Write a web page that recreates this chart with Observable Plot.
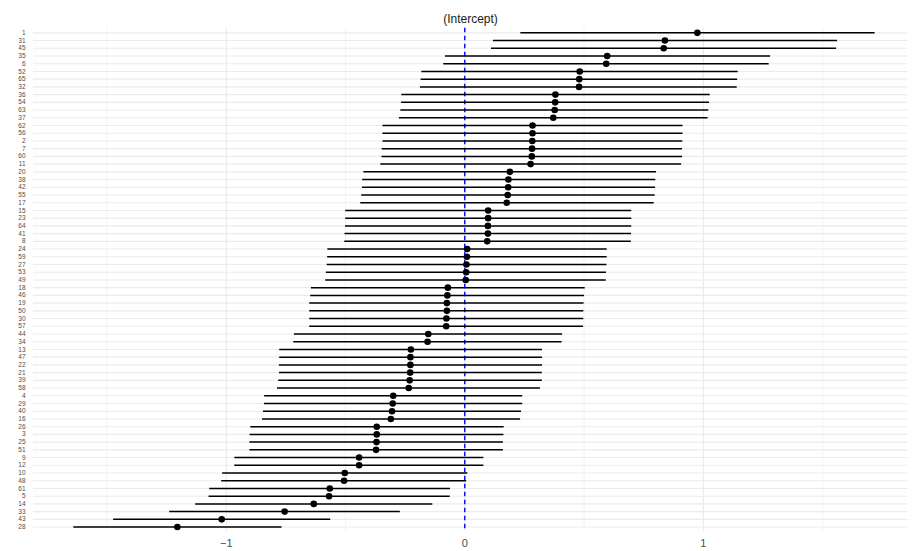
<!DOCTYPE html>
<html>
<head>
<meta charset="utf-8">
<script src="https://cdn.jsdelivr.net/npm/d3@7"></script>
<script src="https://cdn.jsdelivr.net/npm/@observablehq/plot@0.6"></script>
<style>
  html, body { margin: 0; padding: 0; background: #ffffff; }
  #chart svg { display: block; }
</style>
</head>
<body>
<div id="chart"></div>
<script>
// Random-intercept estimates per group with their intervals, sorted by estimate.
const title = "(Intercept)";
const groups = [
  "1","31","45","35","6","52","65","32","36","54","63","37","62","56","2","7",
  "60","11","20","38","42","55","17","15","23","64","41","8","24","59","27","53",
  "49","18","46","19","50","30","57","44","34","13","47","22","21","39","58","4",
  "29","40","16","26","3","25","51","9","12","10","48","61","5","14","33","43","28"
];
const estimate = [
  0.975, 0.839, 0.834, 0.597, 0.593, 0.482, 0.480, 0.479, 0.380, 0.379, 0.377, 0.371,
  0.284, 0.284, 0.283, 0.282, 0.281, 0.276, 0.189, 0.183, 0.182, 0.180, 0.176,
  0.098, 0.098, 0.097, 0.097, 0.094, 0.010, 0.009, 0.007, 0.006, 0.004,
  -0.071, -0.073, -0.075, -0.075, -0.077, -0.078, -0.153, -0.156,
  -0.226, -0.228, -0.228, -0.229, -0.231, -0.235, -0.300, -0.302, -0.305, -0.310,
  -0.369, -0.369, -0.370, -0.372, -0.443, -0.443, -0.503, -0.506, -0.566, -0.569,
  -0.633, -0.755, -1.019, -1.205
];
const lower = [
  0.235, 0.120, 0.112, -0.081, -0.088, -0.180, -0.183, -0.186, -0.264, -0.265, -0.268, -0.274,
  -0.343, -0.343, -0.343, -0.346, -0.347, -0.352, -0.423, -0.428, -0.429, -0.432, -0.436,
  -0.499, -0.499, -0.500, -0.502, -0.503, -0.574, -0.575, -0.577, -0.580, -0.583,
  -0.643, -0.646, -0.650, -0.650, -0.650, -0.650, -0.714, -0.717,
  -0.776, -0.776, -0.777, -0.777, -0.780, -0.785, -0.839, -0.840, -0.844, -0.848,
  -0.897, -0.900, -0.901, -0.901, -0.964, -0.964, -1.015, -1.019, -1.069, -1.072,
  -1.128, -1.237, -1.472, -1.639
];
const upper = [
  1.720, 1.563, 1.559, 1.282, 1.276, 1.146, 1.144, 1.142, 1.029, 1.026, 1.023, 1.020,
  0.915, 0.915, 0.914, 0.913, 0.913, 0.909, 0.804, 0.801, 0.800, 0.798, 0.794,
  0.700, 0.700, 0.700, 0.699, 0.698, 0.597, 0.597, 0.596, 0.594, 0.593,
  0.505, 0.502, 0.500, 0.499, 0.499, 0.498, 0.410, 0.408,
  0.326, 0.326, 0.326, 0.325, 0.325, 0.317, 0.243, 0.243, 0.238, 0.234,
  0.165, 0.164, 0.162, 0.162, 0.080, 0.080, 0.013, 0.008, -0.060, -0.061,
  -0.134, -0.270, -0.562, -0.766
];
const xMajor = [-1, 0, 1];
const xMinor = [-1.5, -0.5, 0.5, 1.5];

const rows = groups.map((g, i) => ({group: g, est: estimate[i], lo: lower[i], hi: upper[i]}));

const gridColor = "#ebebeb";
const font = "'Liberation Sans', Arial, Helvetica, sans-serif";
const fmtTick = d => (d < 0 ? "\u2212" + Math.abs(d) : String(d));

const chart = Plot.plot({
  width: 912,
  height: 551,
  marginLeft: 33,
  marginRight: 5,
  marginTop: 27.7,
  marginBottom: 19.8,
  style: {fontFamily: font, background: "#ffffff"},
  x: {domain: [-1.808, 1.856], label: null},
  y: {type: "point", domain: groups, padding: 0.6, label: null},
  marks: [
    Plot.gridX(xMinor, {stroke: gridColor, strokeOpacity: 1, strokeWidth: 0.6}),
    Plot.gridX(xMajor, {stroke: gridColor, strokeOpacity: 1, strokeWidth: 1.1}),
    Plot.gridY(groups, {stroke: gridColor, strokeOpacity: 1, strokeWidth: 1.1}),
    Plot.axisX(xMajor, {tickSize: 0, tickPadding: 7, fontSize: 11, fill: "#4d4d4d", label: null, tickFormat: fmtTick}),
    Plot.axisY(groups, {tickSize: 0, tickPadding: 8, fontSize: 6.5, fill: "#4d4d4d", label: null}),
    Plot.ruleX([0], {stroke: "#0000ff", strokeWidth: 1.4, strokeDasharray: "4.5,3.5"}),
    Plot.ruleY(rows, {y: "group", x1: "lo", x2: "hi", stroke: "#000000", strokeWidth: 1.5}),
    Plot.dot(rows, {y: "group", x: "est", r: 3.3, fill: "#000000", stroke: "none"}),
    Plot.text([title], {frameAnchor: "top", dy: -13.5, fontSize: 12, fill: "#1a1a1a", text: d => d})
  ]
});

document.getElementById("chart").appendChild(chart);
</script>
</body>
</html>
